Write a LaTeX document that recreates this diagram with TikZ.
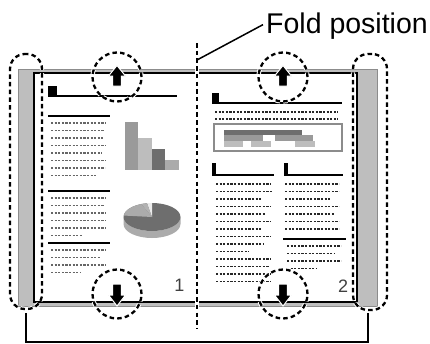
\documentclass[tikz,border=0pt]{standalone}
\usepackage{fontspec}
\setmainfont{Liberation Sans}
\usetikzlibrary{arrows.meta, positioning, calc}
\definecolor{coverfill}{HTML}{BEBEBE}
\definecolor{coveredge}{HTML}{8C8C8C}
\definecolor{barmid}{HTML}{9A9A9A}
\definecolor{barlight}{HTML}{BDBDBD}
\definecolor{bardark}{HTML}{6E6E6E}
\definecolor{barpale}{HTML}{ABABAB}

\begin{document}
\begin{tikzpicture}[x=1pt, y=-1pt,
    cutline/.style={line width=2.3pt, dash pattern=on 4.5pt off 3.2pt, preaction={draw=white, line width=4.3pt}},
    textline/.style={line width=1.2pt, dash pattern=on 2.2pt off 1.4pt, black!60},
    darkline/.style={textline, black!85},
    headline/.style={line width=2pt},
    blockarrow/.style={fill=black, draw=white, line width=1pt, line join=miter}]
    \useasboundingbox (0,0) rectangle (430,343);
        % Covers and page
        \draw [coveredge, fill=coverfill, line width=1pt] (18.5,69.5) rectangle (377,306.5);
        \draw [headline, fill=white] (34,73) rectangle (357,302);
        % Left page
        \fill (48,86) rectangle (57,96);
        \draw [headline] (48,96) -- (177,96);
        \draw [headline] (48,116) -- (110,116);
        \foreach \y/\e in {123/106, 130.5/104, 138/103, 145.5/106, 153/102, 160.5/106, 168/105, 175.5/97}
            \draw [textline] (51,\y) -- (\e,\y);
        \draw [headline] (48,191) -- (110,191);
        \foreach \y/\e in {198/106, 205.5/104, 213/106, 220.5/106, 228/106, 235.5/82}
            \draw [textline] (51,\y) -- (\e,\y);
        \draw [headline] (48,243) -- (110,243);
        \foreach \y/\e in {250/106, 257.5/101, 265/106, 272.5/81}
            \draw [textline] (51,\y) -- (\e,\y);
        % Bar chart
        \fill [barmid] (125,122) rectangle (138,170);
        \fill [barlight] (138,138) rectangle (152,170);
        \fill [bardark] (152,149) rectangle (165,170);
        \fill [barpale] (165,160) rectangle (179,170);
        % Pie chart
        \fill [barpale] (123.5,217) arc[start angle=180, end angle=0, x radius=28.5, y radius=14]
            -- ++(0,7) arc[start angle=0, end angle=180, x radius=28.5, y radius=14] -- cycle;
        \fill [bardark] (152,217) ellipse[x radius=28.5, y radius=14];
        \fill [black!8] (152,217) -- ++(270:28.5 and 14) arc[start angle=270, end angle=260, x radius=28.5, y radius=14] -- cycle;
        \fill [black!30] (152,217) -- ++(260:28.5 and 14) arc[start angle=260, end angle=248, x radius=28.5, y radius=14] -- cycle;
        \fill [barpale] (152,217) -- ++(248:28.5 and 14) arc[start angle=248, end angle=186, x radius=28.5, y radius=14] -- cycle;
        \node [font=\fontsize{18}{18}\selectfont, text=black!75, anchor=base] (pageone) at (179.5,291) {1};
        % Right page
        \fill (212,93) rectangle (219,103);
        \draw [headline] (212,103) -- (342,103);
        \draw [darkline] (215,112) -- (338,112);
        \draw [darkline] (215,119) -- (338,119);
        \draw [coveredge, line width=1.2pt] (214,124) rectangle (342,151);
        \fill [bardark] (224,130) rectangle (302,135);
        \fill [barmid] (224,135) rectangle (263,141);
        \fill [barmid] (275,135) rectangle (313,141);
        \fill [barlight] (224,141) rectangle (243,147);
        \fill [barlight] (251,141) rectangle (271,147);
        \fill [barlight] (295,141) rectangle (315,147);
        \fill (212,163) rectangle (216,175.5);
        \draw [headline] (212,174.5) -- (274,174.5);
        \fill (284,163) rectangle (288,175.5);
        \draw [headline] (284,174.5) -- (343,174.5);
        \foreach \y/\e in {184/271, 191.5/273, 199/261, 206.5/271, 214/266, 221.5/271, 229/262, 236.5/271,
                244/263, 251.5/249, 259/271, 266.5/269, 274/271, 281.5/271}
            \draw [darkline] (216,\y) -- (\e,\y);
        \foreach \y/\e in {184/339, 191.5/339, 199/331, 206.5/339, 214/335, 221.5/339, 229/339}
            \draw [darkline] (285,\y) -- (\e,\y);
        \draw [headline] (283,239) -- (346,239);
        \foreach \y/\e in {246/341, 253.5/335, 261/341, 268.5/317}
            \draw [darkline] (287,\y) -- (\e,\y);
        \node [font=\fontsize{18}{18}\selectfont, text=black!75, anchor=base] (pagetwo) at (343,292) {2};
        % Fold line
        \coordinate (foldtop) at (197,43);
        \coordinate (foldbot) at (197,329);
        \draw [cutline] (foldtop) -- (foldbot);
        % Edges and arrow marks
        \node [draw, cutline, rounded corners=15pt, minimum width=32pt, minimum height=255pt, inner sep=0pt] (leftedge) at (26,181.5) {};
        \node [draw, cutline, rounded corners=15pt, minimum width=34pt, minimum height=256pt, inner sep=0pt] (rightedge) at (370,182) {};
        \foreach \x/\n in {117/a, 283/b} {
            \node [draw, cutline, circle, minimum size=49pt, inner sep=0pt] (top\n) at (\x,77) {};
            \node [draw, cutline, circle, minimum size=49pt, inner sep=0pt] (bot\n) at (\x,294) {};
            \draw [blockarrow] (\x,65.5) -- ++(8.5,10.5) -- ++(-4.2,0) -- ++(0,10) -- ++(-8.6,0) -- ++(0,-10) -- ++(-4.2,0) -- cycle;
            \draw [blockarrow] (\x,306) -- ++(8.5,-11) -- ++(-4.2,0) -- ++(0,-11) -- ++(-8.6,0) -- ++(0,11) -- ++(-4.2,0) -- cycle;
        }
        % Label
        \node [anchor=base west, inner sep=0pt, font=\fontsize{28.5}{30}\selectfont] (foldlabel) at (266,33) {Fold position};
        \coordinate (foldpt) at (197,60);
        \draw [line width=1.5pt] (foldpt) -- ($(foldlabel.west)+(-3,-1)$);
        % Bracket
        \draw [line width=1.5pt] ($(leftedge.south)+(0,3)$) -- ++(0,29) -| ($(rightedge.south)+(-2,2)$);
    \end{tikzpicture}
\end{document}
